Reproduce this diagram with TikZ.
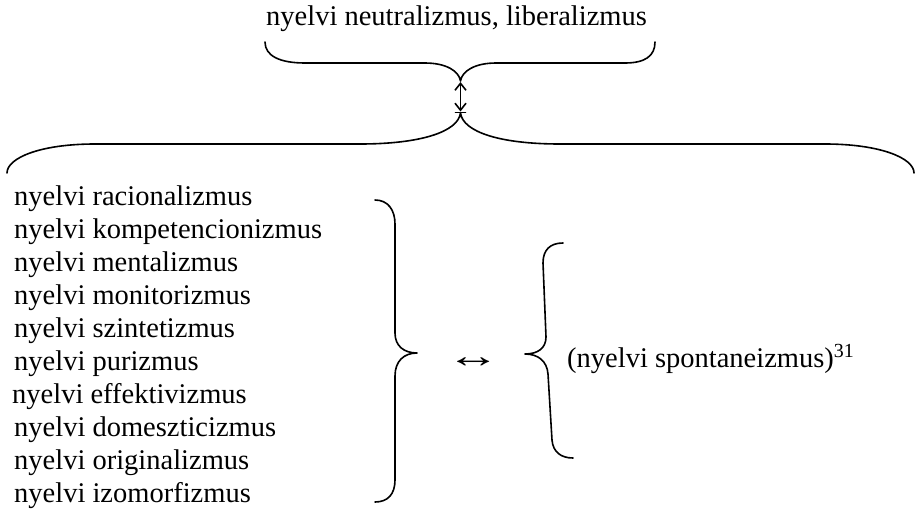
\documentclass[tikz,border=0pt]{standalone}
\usepackage{fontspec}
\usepackage{graphicx}
\setmainfont{Liberation Serif}
\usetikzlibrary{arrows.meta}
\begin{document}
\begin{tikzpicture}[x=1pt,y=-1pt,
  txt/.style={anchor=base west,inner sep=0pt,font=\fontsize{28.5}{33}\selectfont},
  brace/.style={line width=1.6pt,line cap=round,line join=round},
  dblarrow/.style={line width=1.6pt,{Straight Barb[length=7pt,width=11pt]}-{Straight Barb[length=7pt,width=11pt]}}]
\useasboundingbox (0,0) rectangle (915,509);
% top text
\node[txt] (top) at (266,25) {nyelvi neutralizmus, liberalizmus};
% upper brace
\draw[brace] (265,42) .. controls (265,56) and (280,63) .. (305,63) -- (425,63)
  .. controls (446,63) and (459,71) .. (460.5,81)
  .. controls (462,71) and (475,63) .. (496,63) -- (625,63)
  .. controls (645,63) and (655,56) .. (655,42);
% vertical double arrow
\coordinate (upT) at (460.5,82);
\coordinate (loT) at (460.5,111.5);
\draw[dblarrow] (upT) -- (loT);
% lower brace
\draw[brace] (455.5,112.5) -- (465.5,112.5);
\draw[brace] (7,173) .. controls (7,158) and (40,144) .. (95,144) -- (360,144)
  .. controls (420,144) and (458,132) .. (460.5,113)
  .. controls (463,132) and (500,144) .. (560,144) -- (825,144)
  .. controls (880,144) and (914,158) .. (914,173);
% list
\node[txt] (l1) at (14,205) {nyelvi racionalizmus};
\node[txt] (l2) at (14,238) {nyelvi kompetencionizmus};
\node[txt] (l3) at (14,271) {nyelvi mentalizmus};
\node[txt] (l4) at (14,304) {nyelvi monitorizmus};
\node[txt] (l5) at (14,337) {nyelvi szintetizmus};
\node[txt] (l6) at (14,370) {nyelvi purizmus};
\node[txt] (l7) at (12,403) {nyelvi effektivizmus};
\node[txt] (l8) at (14,436) {nyelvi domeszticizmus};
\node[txt] (l9) at (14,469) {nyelvi originalizmus};
\node[txt] (l10) at (14,502) {nyelvi izomorfizmus};
% right-facing brace
\draw[brace] (375,200) .. controls (388,200) and (395,210) .. (395,224) -- (395,333)
  .. controls (395,346) and (404,353) .. (417,353)
  .. controls (404,353) and (395,361) .. (395,376) -- (395,480)
  .. controls (395,494) and (388,502) .. (375,502);
% middle arrow
\node[txt] (arr) at (446,367) {\scalebox{1.9}[1.2]{↔}};
% left-facing brace
\draw[brace] (563,243) .. controls (550,243) and (543,250) .. (543,263) -- (546,337)
  .. controls (546,348) and (538,354) .. (525,354)
  .. controls (538,354) and (547,361) .. (548,374) -- (552,440)
  .. controls (553,452) and (561,458) .. (573,458);
% right text
\node[txt] (sp) at (567,367) {(nyelvi spontaneizmus)\textsuperscript{31}};
\end{tikzpicture}
\end{document}
